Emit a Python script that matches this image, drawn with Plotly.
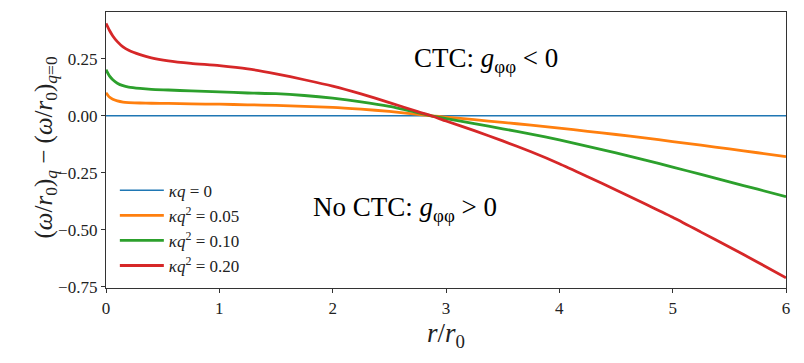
import plotly.graph_objects as go

# r / r0 sample points
r = [0, 0.03, 0.06, 0.1, 0.15, 0.2, 0.3, 0.4, 0.55, 0.75, 1.0, 1.25, 1.5, 1.75,
     2.0, 2.25, 2.5, 2.75, 2.87, 3.0, 3.25, 3.5, 3.75, 4.0, 4.25, 4.5, 4.75,
     5.0, 5.25, 5.5, 5.75, 6.0]

# kappa q = 0 (reference line)
r_q0 = [0, 6]
d_q0 = [0.0, 0.0]

# kappa q^2 = 0.05
d_005 = [0.101, 0.082, 0.072, 0.065, 0.060, 0.058, 0.056, 0.055, 0.054, 0.052,
         0.051, 0.048, 0.046, 0.041, 0.037, 0.029, 0.019, 0.006, 0.0, -0.006,
         -0.017, -0.029, -0.041, -0.054, -0.068, -0.082, -0.097, -0.113,
         -0.129, -0.145, -0.162, -0.179]

# kappa q^2 = 0.10
d_010 = [0.202, 0.175, 0.158, 0.143, 0.132, 0.126, 0.120, 0.116, 0.113, 0.109,
         0.105, 0.100, 0.097, 0.089, 0.077, 0.061, 0.041, 0.014, 0.0, -0.012,
         -0.034, -0.057, -0.080, -0.106, -0.134, -0.163, -0.193, -0.225,
         -0.257, -0.290, -0.322, -0.355]

# kappa q^2 = 0.20
d_020 = [0.405, 0.375, 0.350, 0.325, 0.302, 0.287, 0.268, 0.254, 0.241, 0.230,
         0.220, 0.206, 0.184, 0.158, 0.130, 0.096, 0.058, 0.018, 0.0, -0.023,
         -0.065, -0.110, -0.158, -0.210, -0.267, -0.325, -0.385, -0.445,
         -0.510, -0.575, -0.642, -0.710]

names = ["<i>κq</i> = 0", "<i>κq</i><sup>2</sup> = 0.05",
         "<i>κq</i><sup>2</sup> = 0.10", "<i>κq</i><sup>2</sup> = 0.20"]
colors = ["#1f77b4", "#ff7f0e", "#2ca02c", "#d62728"]

FONT = "Liberation Serif"

fig = go.Figure()
fig.add_trace(go.Scatter(x=r_q0, y=d_q0, mode="lines", name=names[0],
                         legendgroup="a",
                         line=dict(color=colors[0], width=1.6)))
for i, d in enumerate([d_005, d_010, d_020]):
    fig.add_trace(go.Scatter(x=r, y=d, mode="lines", name=names[i + 1],
                             legendgroup="g%d" % i,
                             line=dict(color=colors[i + 1], width=2.8,
                                       shape="spline", smoothing=0.6)))

fig.add_annotation(x=3.35, y=0.245, text="CTC: <i>g</i><sub>φφ</sub> < 0",
                   showarrow=False, font=dict(size=27, color="black"))
fig.add_annotation(x=2.64, y=-0.41, text="No CTC: <i>g</i><sub>φφ</sub> > 0",
                   showarrow=False, font=dict(size=27, color="black"))

# y axis title as a rotated annotation, so its place can be fixed
fig.add_annotation(xref="paper", yref="paper", x=-0.115, y=0.51,
                   textangle=-90, showarrow=False,
                   text="(<i>ω</i>/<i>r</i><sub>0</sub>)<sub><i>q</i></sub>"
                        " − (<i>ω</i>/<i>r</i><sub>0</sub>)<sub><i>q</i>=0</sub>",
                   font=dict(size=25, color="#222"))

axis_common = dict(showline=True, linecolor="#333", linewidth=1.3, mirror=True,
                   ticks="outside", ticklen=4, tickcolor="#333",
                   showgrid=False, zeroline=False,
                   tickfont=dict(size=17, family=FONT, color="#222"))

# the page body has an 8px margin, so the figure is a bit smaller
fig.update_layout(
    width=796, height=355,
    margin=dict(l=98, r=18, t=4, b=75),
    paper_bgcolor="white", plot_bgcolor="white",
    font=dict(family=FONT, color="#222"),
    showlegend=True,
    legend=dict(x=0.013, y=0.418, xanchor="left", yanchor="top",
                bgcolor="rgba(0,0,0,0)", font=dict(size=17, family=FONT),
                tracegroupgap=0, itemwidth=44),
    xaxis=dict(range=[0, 6], tickvals=[0, 1, 2, 3, 4, 5, 6],
               title=dict(text="<i>r</i>/<i>r</i><sub>0</sub>",
                          font=dict(size=27), standoff=6),
               **axis_common),
    yaxis=dict(range=[-0.755, 0.455],
               tickvals=[-0.75, -0.5, -0.25, 0, 0.25],
               ticktext=["−0.75", "−0.50", "−0.25", "0.00", "0.25"],
               **axis_common),
)

fig.write_html("out.html")
